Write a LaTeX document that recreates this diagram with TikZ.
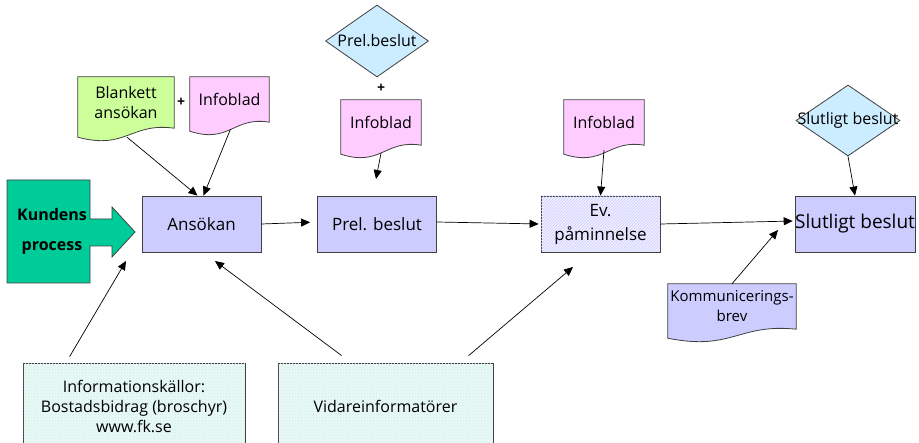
\documentclass[tikz,border=0pt]{standalone}
\usepackage{fontspec}
\setmainfont{Open Sans}
\usepackage{tikz}
\usetikzlibrary{
  arrows.meta,
  positioning,
  shapes.geometric,
  calc,
  backgrounds,
  patterns
}

\definecolor{steplav}{RGB}{204, 204, 255}
\definecolor{docpink}{RGB}{255, 204, 255}
\definecolor{docgreen}{RGB}{204, 255, 153}
\definecolor{decblue}{RGB}{204, 236, 255}
\definecolor{kundgreen}{RGB}{0, 204, 153}
\definecolor{srccyan}{RGB}{232, 250, 246}

\tikzset{
  procbox/.style={draw=black!75, fill=steplav, line width=0.8pt, minimum width=119pt,
    minimum height=56pt, inner sep=0pt, align=center, font=\fontsize{17}{24}\selectfont},
  docbox/.style={minimum height=45pt, inner sep=0pt, align=center,
    font=\fontsize{16}{20}\selectfont},
  decision/.style={diamond, draw=black!75, fill=decblue, line width=0.8pt, inner sep=0pt,
    font=\fontsize{16}{20}\selectfont},
  srcbox/.style={draw=black!75, fill=srccyan, line width=0.8pt, minimum height=87pt,
    postaction={pattern=crosshatch dots, pattern color=teal!18},
    align=center, font=\fontsize{16}{20}\selectfont},
  flow/.style={-{Triangle[length=9pt,width=8pt]}, line width=0.7pt},
  plusmark/.style={inner sep=0pt, font=\bfseries\fontsize{14}{14}\selectfont}
}

\begin{document}
\begin{tikzpicture}[x=1pt, y=-1pt]
\useasboundingbox (0,0) rectangle (919,443);

% kundens process (block arrow)
\draw[draw=black!75, fill=kundgreen, line width=0.8pt]
  (7,180) -- (90,180) -- (90,219) -- (112,219) -- (112,207) -- (135,232)
  -- (112,257) -- (112,246) -- (90,246) -- (90,283) -- (7,283) -- cycle;
\node[font=\bfseries\fontsize{16}{30}\selectfont, align=center] (kund) at (52,231)
  {Kundens\\process};

% main process steps
\node[procbox] (ans) at (201.5,224) {Ansökan};
\node[procbox] (prel) at (377,224) {Prel. beslut};
\node[procbox, fill=steplav!30,
      postaction={pattern=north east lines, pattern color=steplav}] (evp) at (600.5,224)
  {Ev.\\påminnelse};
\node[procbox, font=\fontsize{19}{24}\selectfont] (slut) at (855,224) {Slutligt beslut};

% documents
\node[docbox, minimum width=96pt, minimum height=51pt] (blank) at (126,102.5) {Blankett\\ansökan};
\node[docbox, minimum width=79pt] (info1) at (229.5,99.5) {Infoblad};
\node[docbox, minimum width=80pt] (info2) at (381,122.5) {Infoblad};
\node[docbox, minimum width=80pt] (info3) at (604,122.5) {Infoblad};
\node[docbox, minimum width=128pt, font=\fontsize{15}{20}\selectfont] (komm) at (732,306.5)
  {Kommunicerings-\\brev};

\begin{scope}[on background layer]
\foreach \n/\c in {blank/docgreen, info1/docpink, info2/docpink, info3/docpink, komm/steplav}
  \draw[draw=black!75, fill=\c, line width=0.8pt]
    (\n.north west) -- (\n.north east) -- (\n.south east)
    .. controls ($(\n.south west)!0.55!(\n.south east)+(0,-6)$)
    and ($(\n.south west)!0.5!(\n.south east)+(0,22)$) .. ($(\n.south west)+(0,9)$)
    -- cycle;
\end{scope}

% decisions
\node[decision, minimum width=103pt, minimum height=72pt] (dprel) at (377,41)
  {\makebox[0pt]{Prel.beslut}};
\node[decision, minimum width=104pt, minimum height=71pt] (dslut) at (848,120.5)
  {\makebox[0pt]{Slutligt beslut}};

\node[plusmark] (plus1) at (181,102) {+};
\node[plusmark] (plus2) at (381,88) {+};

% information sources
\node[srcbox, minimum width=222pt] (src) at (134,406.5)
  {Informationskällor:\\Bostadsbidrag (broschyr)\\www.fk.se};
\node[srcbox, minimum width=215pt] (vid) at (385.5,406.5) {Vidareinformatörer};

% free arrow ends
\coordinate (prelin) at (376,179);
\coordinate (ansleft) at (126,261);
\coordinate (ansbelow) at (215,261);
\coordinate (evbelow) at (573,267);
\coordinate (slutbelow) at (778,230);

% connectors
\draw[flow] ([xshift=1pt, yshift=-9pt]blank.south) -- ([xshift=-4pt]ans.north);
\draw[flow] ([xshift=1pt, yshift=-7pt]info1.south) -- ([xshift=2pt]ans.north);
\draw[flow] ([yshift=-8pt]info2.south) -- (prelin);
\draw[flow] ([yshift=-5pt]info3.south) -- (evp.north);
\draw[flow] (dslut.south) -- (slut.north);
\draw[flow, shorten >=7pt] (ans.east) -- ([yshift=2pt]prel.west);
\draw[flow, shorten >=2pt] ([yshift=2pt]prel.east) -- (evp.west);
\draw[flow, shorten >=2pt] (evp.east) -- ([yshift=3pt]slut.west);
\draw[flow] (komm.north) -- (slutbelow);
\draw[flow] ([shift={(47,-6)}]src.north west) -- (ansleft);
\draw[flow] ([shift={(64,-7)}]vid.north west) -- (ansbelow);
\draw[flow] ([shift={(191,-7)}]vid.north west) -- (evbelow);
\end{tikzpicture}
\end{document}
